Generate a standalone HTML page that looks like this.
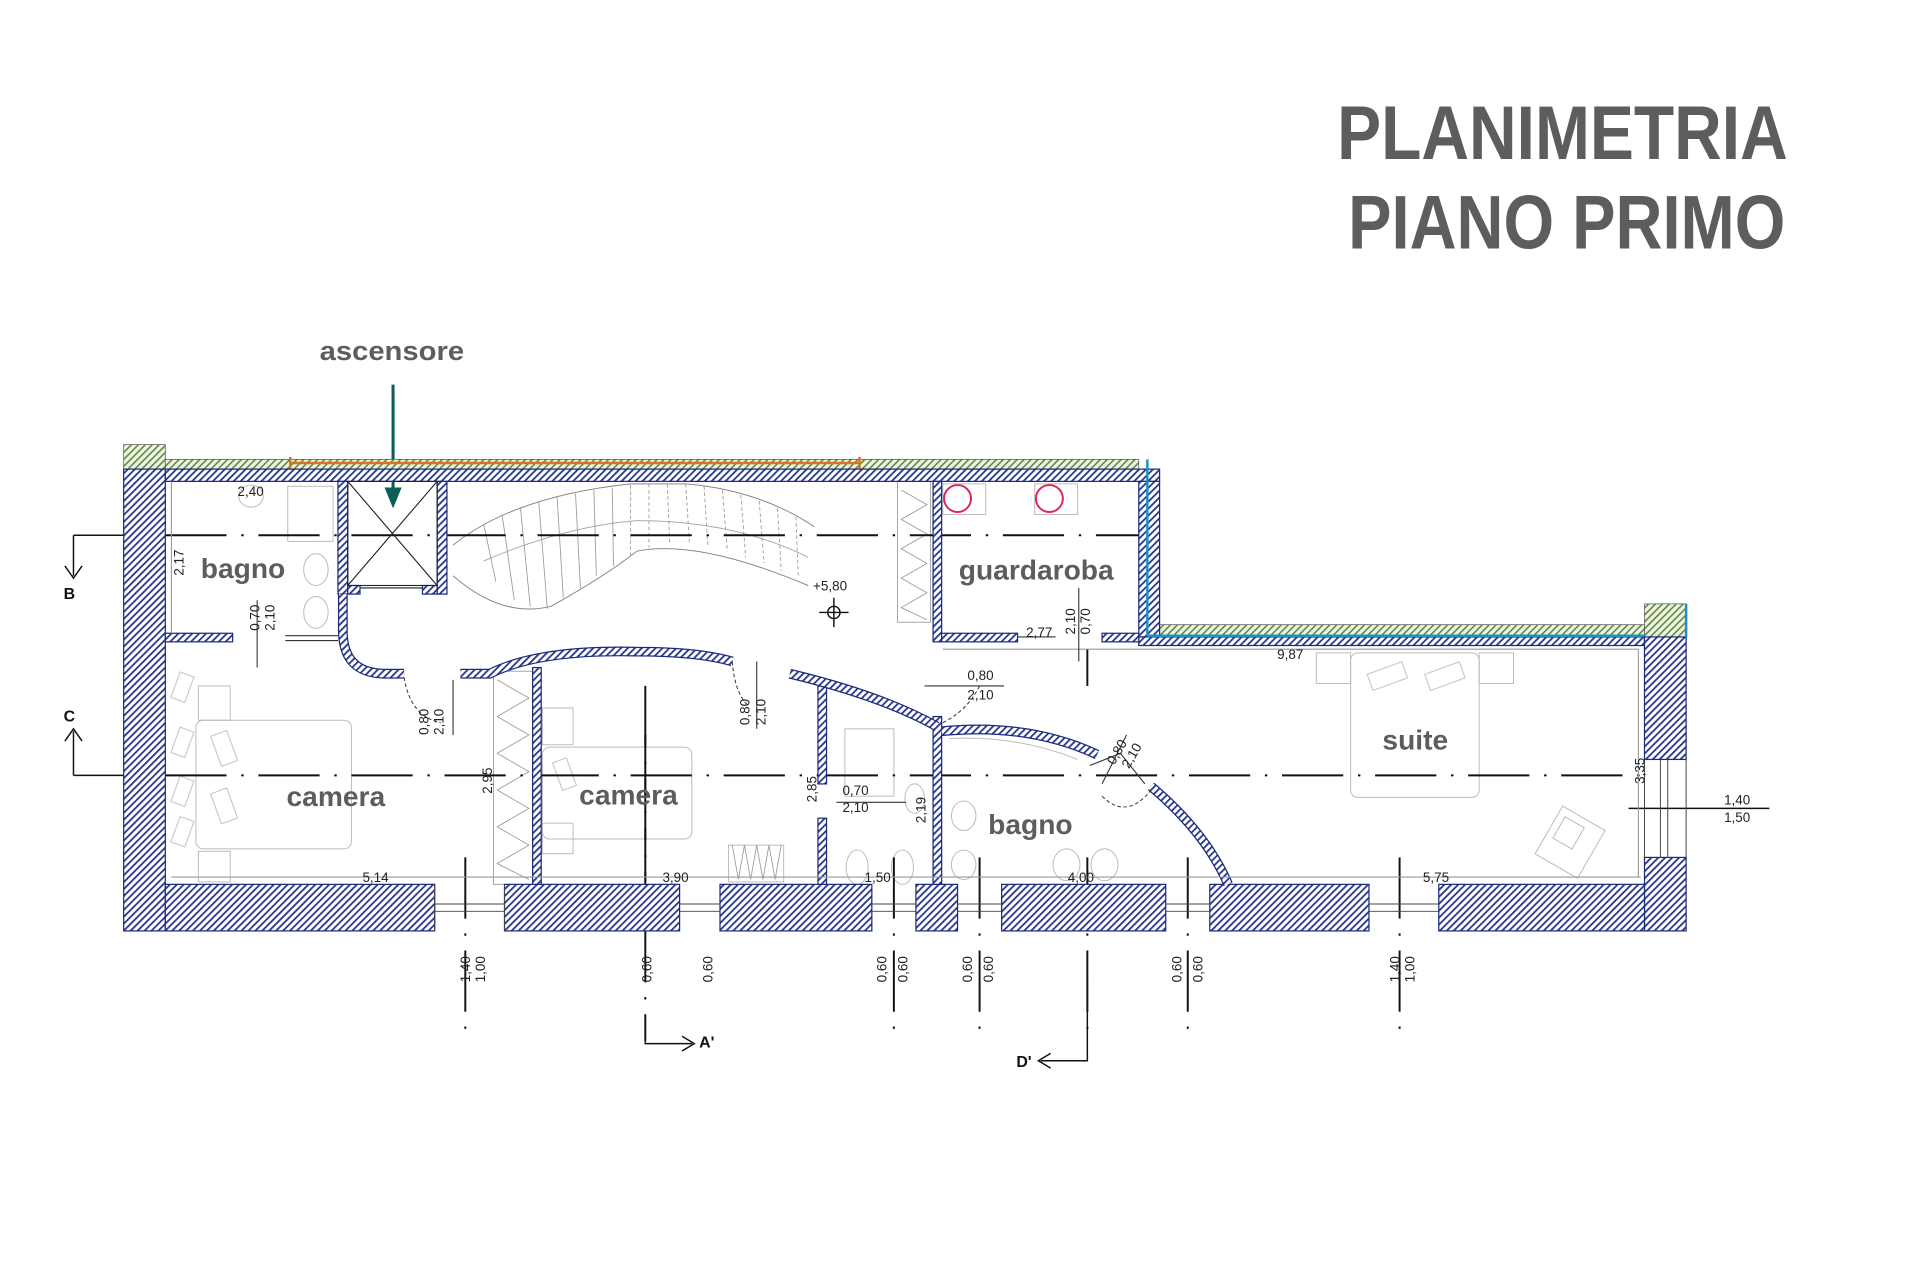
<!DOCTYPE html>
<html><head><meta charset="utf-8"><style>
html,body{margin:0;padding:0;background:#fff;}
svg{display:block;}
</style></head><body>
<svg width="1920" height="1280" viewBox="0 0 1568 1045" preserveAspectRatio="none" xmlns="http://www.w3.org/2000/svg" font-family="Liberation Sans, sans-serif">
<defs>
<pattern id="h" width="4" height="4" patternUnits="userSpaceOnUse" patternTransform="rotate(45)">
<rect width="4" height="4" fill="#fff"/><rect width="1.5" height="4" fill="#2b3a8c"/></pattern>
<pattern id="g" width="4" height="4" patternUnits="userSpaceOnUse" patternTransform="rotate(45)">
<rect width="4" height="4" fill="#eef3e6"/><rect width="1.3" height="4" fill="#5f8a3a"/></pattern>
</defs>
<rect width="1568" height="1045" fill="#fff"/>

<!-- title -->
<g fill="#5d5d5f" font-weight="bold">
<text x="1092" y="130" font-size="62" textLength="368" lengthAdjust="spacingAndGlyphs">PLANIMETRIA</text>
<text x="1101" y="203" font-size="62" textLength="357" lengthAdjust="spacingAndGlyphs">PIANO PRIMO</text>
<text x="261" y="294" font-size="22" textLength="118" lengthAdjust="spacingAndGlyphs">ascensore</text>
</g>
<line x1="321" y1="314" x2="321" y2="405" stroke="#0e5e57" stroke-width="2.5"/>
<path d="M314 398 L321 415 L328 398 Z" fill="#0e5e57"/>

<!-- green strips -->
<g fill="url(#g)" stroke="#555" stroke-width="0.6">
<rect x="101" y="363" width="34" height="20"/>
<rect x="135" y="375" width="795" height="8"/>
<rect x="947" y="510" width="396" height="10"/>
<rect x="1343" y="493" width="34" height="27"/>
</g>
<line x1="237" y1="378" x2="702" y2="378" stroke="#d9731f" stroke-width="2"/>
<line x1="237" y1="373" x2="237" y2="383" stroke="#d9731f" stroke-width="2"/>
<line x1="702" y1="373" x2="702" y2="383" stroke="#d9731f" stroke-width="2"/>

<!-- furniture / light drawings -->
<g fill="none" stroke="#bbb" stroke-width="0.8">
<rect x="160" y="588" width="127" height="105" rx="6"/>
<rect x="162" y="560" width="26" height="28"/><rect x="162" y="695" width="26" height="25"/>
<rect x="443" y="610" width="122" height="75" rx="6"/>
<rect x="443" y="578" width="25" height="30"/><rect x="443" y="672" width="25" height="25"/>
<rect x="1103" y="533" width="105" height="118" rx="6"/>
<rect x="1075" y="533" width="28" height="25"/><rect x="1208" y="533" width="28" height="25"/>
<rect x="1262" y="665" width="40" height="45" transform="rotate(30 1282 688)"/>
<rect x="1272" y="670" width="18" height="20" transform="rotate(30 1281 680)"/>
<rect x="235" y="397" width="37" height="45"/>
<ellipse cx="258" cy="465" rx="10" ry="13"/><ellipse cx="258" cy="500" rx="10" ry="13"/>
<ellipse cx="205" cy="405" rx="10" ry="9"/>
<ellipse cx="747" cy="652" rx="8" ry="12"/>
<ellipse cx="787" cy="666" rx="10" ry="12"/><ellipse cx="787" cy="706" rx="10" ry="12"/>
<ellipse cx="700" cy="708" rx="9" ry="14"/><ellipse cx="737" cy="708" rx="9" ry="14"/>
<ellipse cx="871" cy="706" rx="11" ry="13"/><ellipse cx="902" cy="706" rx="11" ry="13"/>
<path d="M775 603 Q830 600 880 620"/>
<rect x="770" y="395" width="35" height="25"/><rect x="845" y="395" width="35" height="25"/>
<rect x="595" y="690" width="45" height="30"/>
<rect x="690" y="595" width="40" height="55"/>
</g>
<g fill="none" stroke="#ccc" stroke-width="1">
<rect x="143" y="550" width="12" height="22" transform="rotate(20 149 561)"/>
<rect x="143" y="595" width="12" height="22" transform="rotate(20 149 606)"/>
<rect x="143" y="635" width="12" height="22" transform="rotate(20 149 646)"/>
<rect x="143" y="668" width="12" height="22" transform="rotate(20 149 679)"/>
<rect x="176" y="598" width="14" height="26" transform="rotate(-20 183 611)"/>
<rect x="176" y="645" width="14" height="26" transform="rotate(-20 183 658)"/>
<rect x="455" y="620" width="12" height="24" transform="rotate(-20 461 632)"/>
<rect x="1118" y="545" width="30" height="14" transform="rotate(-20 1133 552)"/>
<rect x="1165" y="545" width="30" height="14" transform="rotate(-20 1180 552)"/>
</g>

<!-- stairs -->
<g fill="none" stroke="#888" stroke-width="0.8">
<path d="M370 445 Q420 405 515 395 L560 395 Q620 400 665 430"/>
<path d="M370 470 Q410 505 450 495 Q495 470 520 450 Q570 440 660 478"/>
<path d="M395 458 Q460 430 520 425 Q600 425 660 455" stroke="#aaa"/>
</g>
<g stroke="#999" stroke-width="0.7">
<line x1="395" y1="428" x2="405" y2="475"/><line x1="410" y1="420" x2="420" y2="490"/>
<line x1="425" y1="414" x2="433" y2="495"/><line x1="440" y1="410" x2="447" y2="497"/>
<line x1="455" y1="406" x2="460" y2="488"/><line x1="470" y1="403" x2="474" y2="480"/>
<line x1="485" y1="400" x2="487" y2="470"/><line x1="500" y1="398" x2="501" y2="462"/>
<line x1="515" y1="396" x2="515" y2="455" stroke-dasharray="3 2"/>
<line x1="530" y1="395" x2="530" y2="447" stroke-dasharray="3 2"/>
<line x1="545" y1="395" x2="547" y2="445" stroke-dasharray="3 2"/>
<line x1="560" y1="395" x2="563" y2="443" stroke-dasharray="3 2"/>
<line x1="575" y1="397" x2="578" y2="445" stroke-dasharray="3 2"/>
<line x1="590" y1="400" x2="594" y2="450" stroke-dasharray="3 2"/>
<line x1="605" y1="404" x2="609" y2="455" stroke-dasharray="3 2"/>
<line x1="620" y1="409" x2="624" y2="460" stroke-dasharray="3 2"/>
<line x1="635" y1="415" x2="638" y2="466" stroke-dasharray="3 2"/>
<line x1="650" y1="422" x2="652" y2="472" stroke-dasharray="3 2"/>
</g>
<!-- wardrobes zigzag -->
<g fill="none" stroke="#999" stroke-width="0.7">
<rect x="733" y="393" width="27" height="115"/>
<path d="M736 400 L757 412 L736 424 L757 436 L736 448 L757 460 L736 472 L757 484 L736 496 L757 506"/>
<rect x="403" y="548" width="32" height="174"/>
<path d="M406 555 L432 570 L406 585 L432 600 L406 615 L432 630 L406 645 L432 660 L406 675 L432 690 L406 705 L432 718"/>
<path d="M598 690 L603 718 L608 690 L613 718 L618 690 L623 718 L628 690 L633 718 L638 690"/>
</g>

<!-- section (dash-dot) lines -->
<g stroke="#111" stroke-width="1.6" stroke-dasharray="50 12 2 12">
<line x1="135" y1="437" x2="930" y2="437"/>
<line x1="135" y1="633" x2="1340" y2="633"/>
<line x1="380" y1="700" x2="380" y2="850"/>
<line x1="527" y1="600" x2="527" y2="850"/>
<line x1="730" y1="700" x2="730" y2="850"/>
<line x1="800" y1="700" x2="800" y2="850"/>
<line x1="888" y1="700" x2="888" y2="850"/>
<line x1="970" y1="700" x2="970" y2="850"/>
<line x1="1143" y1="700" x2="1143" y2="850"/>
<line x1="527" y1="560" x2="527" y2="720"/>
<line x1="888" y1="530" x2="888" y2="560"/>
</g>
<g stroke="#111" stroke-width="1.2" fill="none">
<path d="M60 437 L135 437 M60 437 L60 470 M53 462 L60 472 L67 462"/>
<path d="M60 633 L135 633 M60 633 L60 597 M53 605 L60 595 L67 605"/>
<path d="M527 850 L527 852 L565 852 M557 846 L567 852 L557 858"/>
<path d="M888 800 L888 866 L850 866 M858 860 L848 866 L858 872"/>
<line x1="1330" y1="660" x2="1445" y2="660"/>
<line x1="681" y1="488" x2="681" y2="512"/><line x1="669" y1="500" x2="693" y2="500"/>
<circle cx="681" cy="500" r="5"/>
</g>
<g font-size="13" font-weight="bold" fill="#111">
<text x="52" y="489">B</text><text x="52" y="589">C</text>
<text x="571" y="855">A'</text><text x="830" y="871">D'</text>
</g>

<!-- walls -->
<g fill="url(#h)" stroke="#1c2a7a" stroke-width="1">
<rect x="101" y="383" width="34" height="377"/>
<rect x="135" y="383" width="812" height="10"/>
<rect x="930" y="393" width="17" height="127"/>
<rect x="930" y="520" width="413" height="7"/>
<rect x="1343" y="520" width="34" height="100"/>
<rect x="1343" y="700" width="34" height="60"/>
<rect x="135" y="722" width="220" height="38"/>
<rect x="412" y="722" width="143" height="38"/>
<rect x="588" y="722" width="124" height="38"/>
<rect x="748" y="722" width="34" height="38"/>
<rect x="818" y="722" width="134" height="38"/>
<rect x="988" y="722" width="130" height="38"/>
<rect x="1175" y="722" width="168" height="38"/>
<rect x="135" y="517" width="55" height="7"/>
<rect x="276" y="393" width="8" height="92"/>
<rect x="357" y="393" width="8" height="92"/>
<rect x="284" y="478" width="10" height="7"/>
<rect x="345" y="478" width="12" height="7"/>
<rect x="435" y="545" width="7" height="177"/>
<rect x="668" y="560" width="7" height="80"/>
<rect x="668" y="668" width="7" height="54"/>
<rect x="762" y="585" width="7" height="137"/>
<rect x="762" y="393" width="7" height="131"/>
<rect x="769" y="517" width="62" height="7"/>
<rect x="900" y="517" width="30" height="7"/>
</g>
<g fill="none">
<path d="M280 485 L280 515 Q280 550 315 550 L330 550" stroke="#1c2a7a" stroke-width="8"/>
<path d="M280 485 L280 515 Q280 550 315 550 L330 550" stroke="url(#h)" stroke-width="6"/>
<path d="M376 550 L400 550 Q440 530 520 532 Q570 532 598 540" stroke="#1c2a7a" stroke-width="8"/>
<path d="M376 550 L400 550 Q440 530 520 532 Q570 532 598 540" stroke="url(#h)" stroke-width="6"/>
<path d="M645 550 Q720 568 765 593" stroke="#1c2a7a" stroke-width="8"/>
<path d="M645 550 Q720 568 765 593" stroke="url(#h)" stroke-width="6"/>
<path d="M769 597 Q840 590 896 616" stroke="#1c2a7a" stroke-width="8"/>
<path d="M769 597 Q840 590 896 616" stroke="url(#h)" stroke-width="6"/>
<path d="M940 642 Q985 680 1003 722" stroke="#1c2a7a" stroke-width="8"/>
<path d="M940 642 Q985 680 1003 722" stroke="url(#h)" stroke-width="6"/>
</g>
<!-- elevator X -->
<g stroke="#222" stroke-width="0.9" fill="none">
<rect x="284" y="393" width="73" height="85"/>
<line x1="284" y1="393" x2="357" y2="478"/><line x1="357" y1="393" x2="284" y2="478"/>
<line x1="294" y1="480" x2="345" y2="480"/>
</g>
<!-- windows -->
<g stroke="#444" stroke-width="0.8" fill="none">
<path d="M355 738 H412 M355 744 H412 M555 738 H588 M555 744 H588 M712 738 H748 M712 744 H748 M782 738 H818 M782 744 H818 M952 738 H988 M952 744 H988 M1118 738 H1175 M1118 744 H1175"/>
<path d="M1356 620 V700 M1362 620 V700 M1343 620 V700 M1377 620 V700"/>
<path d="M355 722 V760 M412 722 V760"/>
</g>
<!-- door swings -->
<g stroke="#333" stroke-width="0.8" fill="none" stroke-dasharray="3 2">
<path d="M330 553 Q335 585 360 590"/><path d="M598 540 Q600 565 610 575"/>
<path d="M900 650 Q920 670 940 645"/><path d="M770 590 Q790 580 800 560"/>
</g>
<g stroke="#333" stroke-width="0.9" fill="none">
<path d="M890 625 L915 615 L935 640"/><line x1="233" y1="519" x2="276" y2="519"/><line x1="233" y1="523" x2="276" y2="523"/>
<line x1="831" y1="520" x2="862" y2="520"/>
<line x1="140" y1="393" x2="140" y2="517" stroke="#999"/>
<line x1="140" y1="716" x2="1340" y2="716" stroke="#999"/>
<line x1="770" y1="530" x2="1338" y2="530" stroke="#999"/>
<line x1="1338" y1="530" x2="1338" y2="716" stroke="#999"/>
<line x1="210" y1="490" x2="210" y2="545"/><line x1="370" y1="555" x2="370" y2="600"/>
<line x1="618" y1="540" x2="618" y2="595"/><line x1="683" y1="655" x2="740" y2="655"/>
<line x1="881" y1="480" x2="881" y2="540"/><line x1="755" y1="560" x2="820" y2="560"/>
<line x1="920" y1="600" x2="900" y2="640"/>
</g>

<!-- dimensions -->
<g font-size="11" fill="#222">
<text x="194" y="405">2,40</text><text x="296" y="720">5,14</text><text x="541" y="720">3,90</text>
<text x="706" y="720">1,50</text><text x="872" y="720">4,00</text><text x="1162" y="720">5,75</text>
<text x="1043" y="538">9,87</text><text x="838" y="520">2,77</text><text x="664" y="482">+5,80</text>
<text x="790" y="555">0,80</text><text x="790" y="571">2,10</text>
<text x="688" y="649">0,70</text><text x="688" y="663">2,10</text>
<text x="1408" y="657">1,40</text><text x="1408" y="671">1,50</text>
<g transform="rotate(-90)">
<text x="-470" y="150">2,17</text><text x="-515" y="212">0,70</text><text x="-515" y="224">2,10</text>
<text x="-600" y="350">0,80</text><text x="-600" y="362">2,10</text>
<text x="-648" y="402">2,95</text><text x="-592" y="612">0,80</text><text x="-592" y="625">2,10</text>
<text x="-655" y="667">2,85</text><text x="-672" y="756">2,19</text>
<text x="-518" y="878">2,10</text><text x="-518" y="890">0,70</text>
<text x="-640" y="1343">3,35</text>
<text x="-802" y="384">1,40</text><text x="-802" y="396">1,00</text>
<text x="-802" y="532">0,60</text><text x="-802" y="582">0,60</text>
<text x="-802" y="724">0,60</text><text x="-802" y="741">0,60</text>
<text x="-802" y="794">0,60</text><text x="-802" y="811">0,60</text>
<text x="-802" y="965">0,60</text><text x="-802" y="982">0,60</text>
<text x="-802" y="1143">1,40</text><text x="-802" y="1155">1,00</text>
</g>
<text x="0" y="0" transform="translate(910 625) rotate(-60)">0,80</text>
<text x="0" y="0" transform="translate(922 628) rotate(-60)">2,10</text>
</g>

<!-- room labels -->
<g fill="#5d5d5f" font-weight="bold" font-size="23">
<text x="164" y="472">bagno</text>
<text x="783" y="473">guardaroba</text>
<text x="234" y="658">camera</text>
<text x="473" y="657">camera</text>
<text x="807" y="681">bagno</text>
<text x="1129" y="612">suite</text>
</g>
<!-- pink circles -->
<g fill="none" stroke="#e0245e" stroke-width="1.6">
<ellipse cx="782" cy="407" rx="11" ry="11"/><ellipse cx="857" cy="407" rx="11" ry="11"/>
</g>
<line x1="937" y1="375" x2="937" y2="519" stroke="#1e90c8" stroke-width="2"/>
<line x1="937" y1="519" x2="1343" y2="519" stroke="#1e90c8" stroke-width="2"/>
<line x1="1377" y1="493" x2="1377" y2="520" stroke="#1e90c8" stroke-width="2"/>
</svg>
</body></html>
